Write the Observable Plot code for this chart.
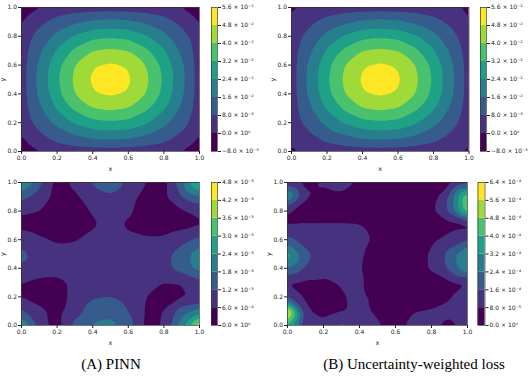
<!DOCTYPE html>
<html>
<head>
<meta charset="utf-8">
<script src="https://cdn.jsdelivr.net/npm/d3@7"></script>
<script src="https://cdn.jsdelivr.net/npm/@observablehq/plot@0.6"></script>
<style>
html, body { margin: 0; padding: 0; background: #fff; overflow: hidden; }
#fig { position: relative; width: 530px; height: 381px; overflow: hidden; font-family: "DejaVu Sans", sans-serif; }
#fig > * { position: absolute; }
.cap { font-family: "Liberation Serif", "Times New Roman", serif; font-size: 15px; line-height: 1; color: #000; white-space: nowrap; transform: translateX(-50%); }
</style>
</head>
<body>
<div id="fig"></div>
<script>
// ---------- axes / levels ----------
const axisTicks = [0, 0.2, 0.4, 0.6, 0.8, 1.0];
const levelsSolution = [-8e-3, 0, 8e-3, 16e-3, 24e-3, 32e-3, 40e-3, 48e-3, 56e-3];
const levelsErrPINN = [0, 6e-4, 12e-4, 18e-4, 24e-4, 30e-4, 36e-4, 42e-4, 48e-4];
const levelsErrUW = [0, 8e-5, 16e-5, 24e-5, 32e-5, 40e-5, 48e-5, 56e-5, 64e-5];
const captionA = "(A) PINN";
const captionB = "(B) Uncertainty-weighted loss";

// ---------- sample grid coordinates ----------
const solX = [0, 0.03, 0.1, 0.2, 0.3, 0.4, 0.5, 0.6, 0.7, 0.8, 0.9, 0.97, 1];
const solY = [1, 0.97, 0.9, 0.8, 0.7, 0.6, 0.5, 0.4, 0.3, 0.2, 0.1, 0.03, 0];
const errX = [0, 0.1, 0.2, 0.3, 0.4, 0.5, 0.6, 0.7, 0.8, 0.9, 1];
const errY = [1, 0.9, 0.8, 0.7, 0.6, 0.5, 0.4, 0.3, 0.2, 0.1, 0];

// ---------- PINN solution (rows top y=1 -> bottom y=0) ----------
const solutionPINN = [
  [-7e-3, -5e-3, -1.5e-3, 1e-3, 1e-3, 1e-3, 1e-3, 1e-3, 1e-3, 1e-3, -1.5e-3, -5e-3, -7e-3],
  [-5e-3, -1.5e-3, 2.4e-3, 5.9e-3, 7.9e-3, 9.4e-3, 9.8e-3, 9.4e-3, 7.9e-3, 5.9e-3, 2.4e-3, -1.5e-3, -5e-3],
  [-1.5e-3, 2.4e-3, 6.3e-3, 10.8e-3, 14.6e-3, 17.3e-3, 18.0e-3, 17.3e-3, 14.6e-3, 10.8e-3, 6.3e-3, 2.4e-3, -1.5e-3],
  [1e-3, 5.9e-3, 10.8e-3, 18.5e-3, 25.0e-3, 29.7e-3, 30.9e-3, 29.7e-3, 25.0e-3, 18.5e-3, 10.8e-3, 5.9e-3, 1e-3],
  [1e-3, 7.9e-3, 14.6e-3, 25.0e-3, 33.8e-3, 40.1e-3, 41.7e-3, 40.1e-3, 33.8e-3, 25.0e-3, 14.6e-3, 7.9e-3, 1e-3],
  [1e-3, 9.4e-3, 17.3e-3, 29.7e-3, 40.1e-3, 47.5e-3, 49.4e-3, 47.5e-3, 40.1e-3, 29.7e-3, 17.3e-3, 9.4e-3, 1e-3],
  [1e-3, 9.8e-3, 18.0e-3, 30.9e-3, 41.7e-3, 49.4e-3, 51.5e-3, 49.4e-3, 41.7e-3, 30.9e-3, 18.0e-3, 9.8e-3, 1e-3],
  [1e-3, 9.4e-3, 17.3e-3, 29.7e-3, 40.1e-3, 47.5e-3, 49.4e-3, 47.5e-3, 40.1e-3, 29.7e-3, 17.3e-3, 9.4e-3, 1e-3],
  [1e-3, 7.9e-3, 14.6e-3, 25.0e-3, 33.8e-3, 40.1e-3, 41.7e-3, 40.1e-3, 33.8e-3, 25.0e-3, 14.6e-3, 7.9e-3, 1e-3],
  [1e-3, 5.9e-3, 10.8e-3, 18.5e-3, 25.0e-3, 29.7e-3, 30.9e-3, 29.7e-3, 25.0e-3, 18.5e-3, 10.8e-3, 5.9e-3, 1e-3],
  [-1.5e-3, 2.4e-3, 6.3e-3, 10.8e-3, 14.6e-3, 17.3e-3, 18.0e-3, 17.3e-3, 14.6e-3, 10.8e-3, 6.3e-3, 2.4e-3, -1.5e-3],
  [-5e-3, -1.5e-3, 2.4e-3, 5.9e-3, 7.9e-3, 9.4e-3, 9.8e-3, 9.4e-3, 7.9e-3, 5.9e-3, 2.4e-3, -1.5e-3, -5e-3],
  [-7e-3, -5e-3, -1.5e-3, 1e-3, 1e-3, 1e-3, 1e-3, 1e-3, 1e-3, 1e-3, -1.5e-3, -5e-3, -7e-3]
];

// ---------- Uncertainty-weighted solution ----------
const solutionUW = [
  [-3e-3, -0.5e-3, 1e-3, 1e-3, 1e-3, 1e-3, 1e-3, 1e-3, 1e-3, 1e-3, 0.5e-3, -1e-3, -3e-3],
  [-0.5e-3, 1.5e-3, 3.4e-3, 5.9e-3, 7.9e-3, 9.4e-3, 9.8e-3, 9.4e-3, 7.9e-3, 5.9e-3, 3.4e-3, 1e-3, -1.5e-3],
  [1e-3, 3.4e-3, 6.3e-3, 10.8e-3, 14.6e-3, 17.3e-3, 18.0e-3, 17.3e-3, 14.6e-3, 10.8e-3, 6.3e-3, 3.0e-3, -1e-3],
  [1e-3, 5.9e-3, 10.8e-3, 18.5e-3, 25.0e-3, 29.7e-3, 30.9e-3, 29.7e-3, 25.0e-3, 18.5e-3, 10.8e-3, 5.5e-3, -0.5e-3],
  [1e-3, 7.9e-3, 14.6e-3, 25.0e-3, 33.8e-3, 40.1e-3, 41.7e-3, 40.1e-3, 33.8e-3, 25.0e-3, 14.6e-3, 7.9e-3, 0.5e-3],
  [1e-3, 9.4e-3, 17.3e-3, 29.7e-3, 40.1e-3, 47.5e-3, 49.4e-3, 47.5e-3, 40.1e-3, 29.7e-3, 17.3e-3, 9.4e-3, 1e-3],
  [1e-3, 9.8e-3, 18.0e-3, 30.9e-3, 41.7e-3, 49.4e-3, 51.5e-3, 49.4e-3, 41.7e-3, 30.9e-3, 18.0e-3, 9.8e-3, 1e-3],
  [1e-3, 9.4e-3, 17.3e-3, 29.7e-3, 40.1e-3, 47.5e-3, 49.4e-3, 47.5e-3, 40.1e-3, 29.7e-3, 17.3e-3, 9.4e-3, 1e-3],
  [1e-3, 7.9e-3, 14.6e-3, 25.0e-3, 33.8e-3, 40.1e-3, 41.7e-3, 40.1e-3, 33.8e-3, 25.0e-3, 14.6e-3, 7.9e-3, 1e-3],
  [1e-3, 5.9e-3, 10.8e-3, 18.5e-3, 25.0e-3, 29.7e-3, 30.9e-3, 29.7e-3, 25.0e-3, 18.5e-3, 10.8e-3, 5.9e-3, 1e-3],
  [1e-3, 3.4e-3, 6.3e-3, 10.8e-3, 14.6e-3, 17.3e-3, 18.0e-3, 17.3e-3, 14.6e-3, 10.8e-3, 6.3e-3, 3.4e-3, 1e-3],
  [-0.5e-3, 1.5e-3, 3.4e-3, 5.9e-3, 7.9e-3, 9.4e-3, 9.8e-3, 9.4e-3, 7.9e-3, 5.9e-3, 3.4e-3, 1.5e-3, -0.5e-3],
  [-3e-3, -0.5e-3, 1e-3, 1e-3, 1e-3, 1e-3, 1e-3, 1e-3, 1e-3, 1e-3, 1e-3, -0.5e-3, -3e-3]
];

// ---------- PINN absolute error ----------
const errorPINN = [
  [28e-4, 14e-4, 4e-4, 7e-4, 13e-4, 16e-4, 11e-4, 6e-4, 4e-4, 17e-4, 33e-4],
  [14e-4, 10e-4, 4e-4, 5e-4, 9e-4, 11e-4, 8e-4, 4e-4, 5e-4, 12e-4, 17e-4],
  [7e-4, 6e-4, 3e-4, 3e-4, 6.5e-4, 9e-4, 7e-4, 3e-4, 3e-4, 5e-4, 7e-4],
  [4e-4, 3e-4, 2.5e-4, 3e-4, 5e-4, 8e-4, 5e-4, 3e-4, 3e-4, 4e-4, 5.5e-4],
  [10e-4, 7e-4, 5e-4, 5.5e-4, 8e-4, 9e-4, 7.5e-4, 7e-4, 7e-4, 10e-4, 14e-4],
  [14e-4, 9e-4, 8.5e-4, 8.5e-4, 9e-4, 9e-4, 9e-4, 9e-4, 10e-4, 15e-4, 22e-4],
  [11e-4, 9e-4, 9e-4, 9e-4, 9e-4, 9e-4, 9e-4, 9e-4, 10e-4, 14.5e-4, 21e-4],
  [6e-4, 4.5e-4, 4e-4, 7e-4, 9e-4, 9e-4, 8.5e-4, 8e-4, 6e-4, 6e-4, 10e-4],
  [5.5e-4, 3e-4, 3e-4, 8e-4, 11.5e-4, 12e-4, 10e-4, 6e-4, 3e-4, 5e-4, 5.5e-4],
  [13e-4, 8e-4, 4e-4, 9e-4, 15e-4, 16e-4, 12e-4, 5e-4, 6e-4, 16e-4, 21e-4],
  [26e-4, 10e-4, 3e-4, 14e-4, 19e-4, 20e-4, 15e-4, 4e-4, 6.5e-4, 22e-4, 44e-4]
];

// ---------- Uncertainty-weighted absolute error ----------
const errorUW = [
  [10e-5, 4e-5, 9e-5, 12e-5, 7e-5, 3e-5, 2e-5, 2e-5, 3e-5, 5e-5, 10e-5],
  [35e-5, 9e-5, 5e-5, 6e-5, 3e-5, 2e-5, 2e-5, 2e-5, 4e-5, 17e-5, 50e-5],
  [8.5e-5, 4e-5, 2e-5, 2e-5, 2e-5, 2e-5, 2e-5, 2e-5, 6e-5, 18e-5, 48e-5],
  [7.5e-5, 9e-5, 9.5e-5, 9.5e-5, 9e-5, 5e-5, 2e-5, 2e-5, 4e-5, 5e-5, 5e-5],
  [18e-5, 13e-5, 11e-5, 10e-5, 10e-5, 7e-5, 2e-5, 3e-5, 6e-5, 11e-5, 15e-5],
  [38e-5, 18e-5, 13e-5, 10e-5, 9e-5, 5e-5, 2e-5, 4e-5, 9e-5, 19e-5, 34e-5],
  [24e-5, 15e-5, 11e-5, 10e-5, 8.5e-5, 5e-5, 2e-5, 4e-5, 9e-5, 18e-5, 31e-5],
  [7e-5, 6e-5, 6.5e-5, 8.5e-5, 9e-5, 5e-5, 2e-5, 2e-5, 4e-5, 6e-5, 7e-5],
  [14e-5, 7e-5, 3e-5, 7.5e-5, 9e-5, 7e-5, 2e-5, 2e-5, 3e-5, 7e-5, 15e-5],
  [66e-5, 10e-5, 4e-5, 7e-5, 9.5e-5, 7e-5, 3e-5, 8e-5, 9e-5, 10e-5, 17e-5],
  [40e-5, 6e-5, 11e-5, 19e-5, 15e-5, 9e-5, 6e-5, 10e-5, 10e-5, 5e-5, 12e-5]
];

// ---------- helpers ----------
const sup = {"-": "\u207B", "0": "\u2070", "1": "\u00B9", "2": "\u00B2", "3": "\u00B3", "4": "\u2074", "5": "\u2075", "6": "\u2076", "7": "\u2077", "8": "\u2078", "9": "\u2079"};
function sciFmt(v) {
  const [m, e] = v.toExponential(1).split("e");
  return m.replace("-", "\u2212") + " \u00D7 10" + String(+e).replace(/./g, c => sup[c]);
}
function toPoints(xs, ys, rows) {
  const pts = [];
  rows.forEach((row, i) => row.forEach((v, j) => pts.push({x: xs[j], y: ys[i], v})));
  return pts;
}
const fig = document.getElementById("fig");
function place(el, left, top) {
  el.style.left = left + "px";
  el.style.top = top + "px";
  fig.appendChild(el);
}
const baseStyle = {fontFamily: "'DejaVu Sans', sans-serif", fontSize: "6px", color: "#222", background: "transparent", overflow: "visible", maxWidth: "none"};
const colorOf = levels => ({type: "linear", scheme: "viridis", domain: [levels[0], levels[levels.length - 2]]});

function field({pts, levels, w, h, ml, mt, mr, mb}) {
  return Plot.plot({
    width: w, height: h, marginLeft: ml, marginTop: mt, marginRight: mr, marginBottom: mb,
    style: baseStyle,
    x: {domain: [0, 1], label: null},
    y: {domain: [0, 1], label: null},
    color: colorOf(levels),
    marks: [
      Plot.rect([levels[0]], {x1: 0, x2: 1, y1: 0, y2: 1, fill: d => d}),
      Plot.contour(pts, {x: "x", y: "y", value: "v", fill: "value", thresholds: levels.slice(1, -1),
        interpolate: "barycentric", pixelSize: 1, blur: 3, stroke: "none", clip: true}),
      Plot.frame({stroke: "#3a3a3a", strokeWidth: 0.7}),
      Plot.axisX({ticks: axisTicks, tickFormat: d3.format(".1f"), tickSize: 3, tickPadding: 1.5, label: null}),
      Plot.axisY({ticks: axisTicks, tickFormat: d3.format(".1f"), tickSize: 3, tickPadding: 1.5, label: null}),
      Plot.text(["x"], {text: d => d, frameAnchor: "bottom", dy: 17, lineAnchor: "middle", textAnchor: "middle", fontSize: 6.5}),
      Plot.text(["y"], {text: d => d, frameAnchor: "left", dx: -19, rotate: -90, lineAnchor: "middle", textAnchor: "middle", fontSize: 6.5})
    ]
  });
}

function colorbar({levels, w, h, ml, mt, mr, mb}) {
  const bands = levels.slice(0, -1).map((lo, i) => ({lo, hi: levels[i + 1]}));
  return Plot.plot({
    width: w, height: h, marginLeft: ml, marginTop: mt, marginRight: mr, marginBottom: mb,
    style: baseStyle,
    x: {domain: [0, 1], axis: null},
    y: {domain: [levels[0], levels[levels.length - 1]], label: null},
    color: colorOf(levels),
    marks: [
      Plot.rect(bands, {x1: 0, x2: 1, y1: "lo", y2: "hi", fill: "lo"}),
      Plot.frame({stroke: "#3a3a3a", strokeWidth: 0.7}),
      Plot.axisY({anchor: "right", ticks: levels, tickFormat: sciFmt, tickSize: 3, tickPadding: 1.5, label: null})
    ]
  });
}

// ---------- panels ----------
place(field({pts: toPoints(solX, solY, solutionPINN), levels: levelsSolution, w: 205, h: 176, ml: 21, mt: 7, mr: 6, mb: 25}), 0, 0);
place(colorbar({levels: levelsSolution, w: 65, h: 176, ml: 6, mt: 7, mr: 53, mb: 25}), 205, 0);

place(field({pts: toPoints(solX, solY, solutionUW), levels: levelsSolution, w: 210, h: 176, ml: 26, mt: 7, mr: 6.5, mb: 25}), 265, 0);
place(colorbar({levels: levelsSolution, w: 75, h: 176, ml: 5, mt: 7, mr: 64, mb: 25}), 475, 0);

place(field({pts: toPoints(errX, errY, errorPINN), levels: levelsErrPINN, w: 205, h: 176, ml: 21, mt: 7, mr: 6, mb: 26}), 0, 175);
place(colorbar({levels: levelsErrPINN, w: 65, h: 176, ml: 6, mt: 7, mr: 53, mb: 26}), 205, 175);

place(field({pts: toPoints(errX, errY, errorUW), levels: levelsErrUW, w: 210, h: 176, ml: 22, mt: 7, mr: 8, mb: 26}), 265, 175);
place(colorbar({levels: levelsErrUW, w: 75, h: 176, ml: 12.5, mt: 7, mr: 55.5, mb: 26}), 465, 175);

// ---------- captions ----------
function caption(text, cx, top) {
  const d = document.createElement("div");
  d.className = "cap";
  d.textContent = text;
  place(d, cx, top);
}
caption(captionA, 111, 357);
caption(captionB, 414, 357);
</script>
</body>
</html>
